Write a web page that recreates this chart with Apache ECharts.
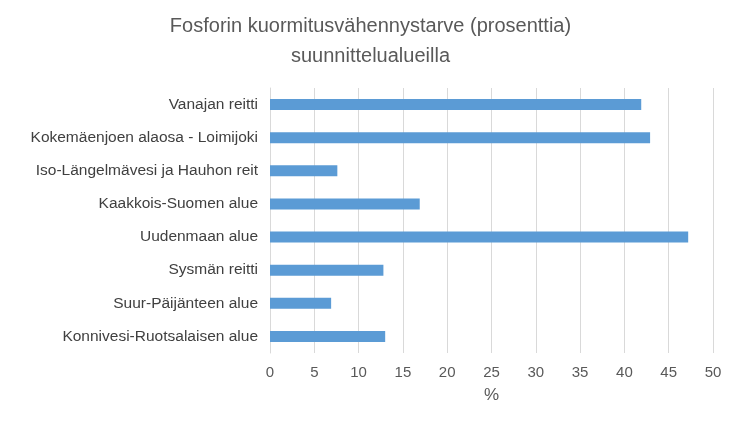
<!DOCTYPE html>
<html><head><meta charset="utf-8">
<script src="https://cdn.jsdelivr.net/npm/echarts@6/dist/echarts.min.js"></script>
<style>html,body{margin:0;padding:0;background:#fff}#c{width:741px;height:430px}</style>
</head><body><div id="c"></div>
<script>
const categories = ["Vanajan reitti","Kokemäenjoen alaosa - Loimijoki","Iso-Längelmävesi ja Hauhon reit","Kaakkois-Suomen alue","Uudenmaan alue","Sysmän reitti","Suur-Päijänteen alue","Konnivesi-Ruotsalaisen alue"];
const values = [41.9, 42.9, 7.6, 16.9, 47.2, 12.8, 6.9, 13.0];
const chart = echarts.init(document.getElementById('c'));
chart.setOption({
  animation:false,
  title:{text:"Fosforin kuormitusvähennystarve (prosenttia)\nsuunnittelualueilla",left:'center',top:6,
    textStyle:{fontFamily:'Liberation Sans, Arial',fontSize:20,fontWeight:'normal',color:'#595959',lineHeight:30}},
  grid:{left:270,right:28,top:88,bottom:77},
  xAxis:{type:'value',min:0,max:50,interval:5,name:'%',nameLocation:'middle',nameGap:34,
    nameTextStyle:{fontSize:17,color:'#595959',fontFamily:'Liberation Sans, Arial'},
    axisLabel:{fontSize:15,color:'#595959',fontFamily:'Liberation Sans, Arial',margin:12},
    splitLine:{lineStyle:{color:'#d9d9d9'}},axisLine:{show:false},axisTick:{show:false}},
  yAxis:{type:'category',data:categories,inverse:true,
    axisLabel:{fontSize:15.5,color:'#404040',fontFamily:'Liberation Sans, Arial',margin:12},
    axisLine:{lineStyle:{color:'#d9d9d9'}},axisTick:{show:false}},
  series:[{type:'bar',data:values,barWidth:11,itemStyle:{color:'#5b9bd5'}}]
});
</script></body></html>
